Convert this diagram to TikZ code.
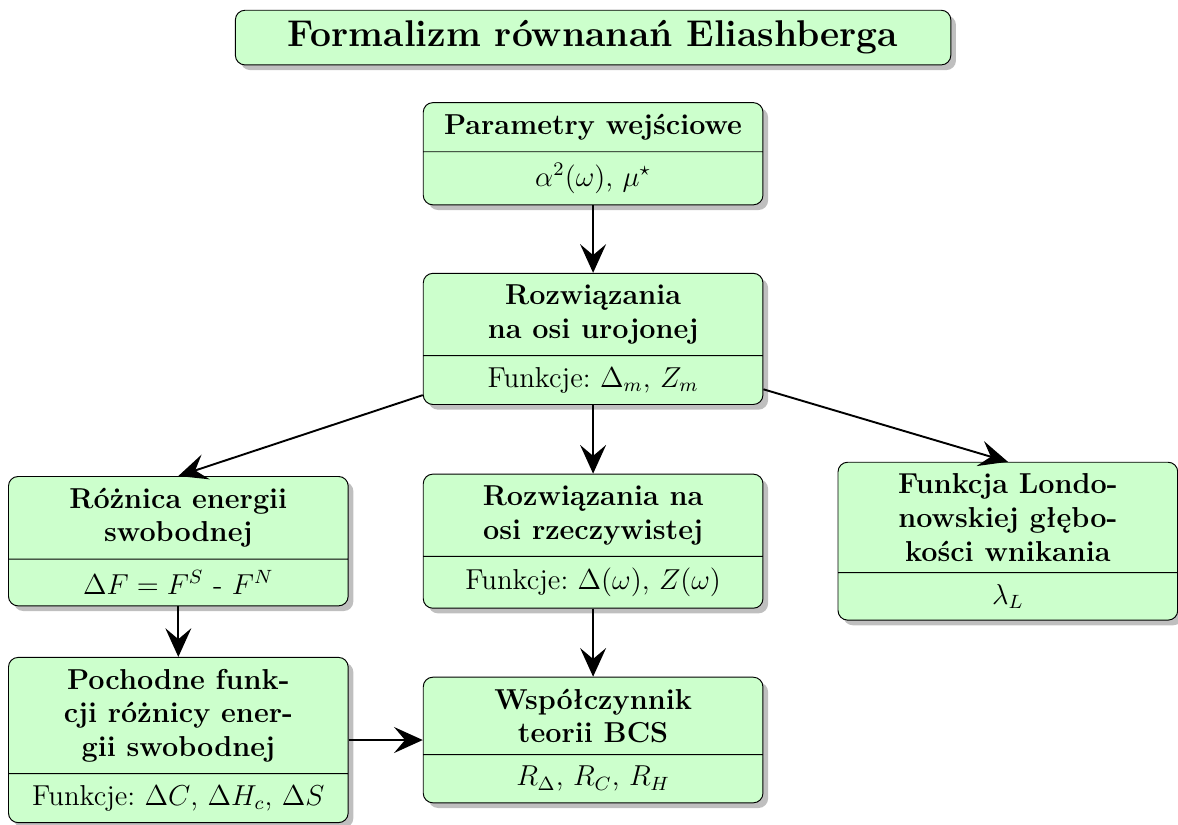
\documentclass[tikz,border=0pt]{standalone}
\definecolor{boxgreen}{RGB}{204, 255, 204}
\usepackage{tikz}
\usetikzlibrary{shapes, arrows.meta, positioning, shadows}
\usepackage{amsmath, amssymb}
\frenchspacing

\begin{document}
\begin{tikzpicture}[
  blok/.style={rectangle split, rectangle split parts=2, draw, fill=boxgreen, rounded corners=4pt, drop shadow, text width=4.62cm, align=flush center, inner xsep=5pt, inner ysep=4.6pt, font=\large},
  strzalka/.style={thick, -{Stealth[length=4.2mm, width=3.8mm, inset=1.6mm]}}]
  \useasboundingbox (-8.68, -4.14) rectangle (8.56, 7.92);
  % tytul
  \node[draw, fill=boxgreen, rounded corners=4pt, drop shadow, minimum width=10.47cm, minimum height=0.8cm, font=\fontsize{15.5}{18}\selectfont\bfseries] (tytul) at (0, 7.37) {Formalizm równanań Eliashberga};
  % bloki
  \node[blok] (param) at (0, 5.67) {\textbf{Parametry wejściowe}
    \nodepart{two} $\alpha^2(\omega)$, $\mu^\star$};
  \node[blok] (uroj) at (0, 2.96) {\textbf{Rozwiązania\\na osi urojonej}
    \nodepart{two} Funkcje: $\Delta_m$, $Z_m$};
  \node[blok] (roznica) at (-6.07, 0) {\textbf{Różnica energii\\swobodnej}
    \nodepart{two} $\Delta F = F^S$ - $F^N$};
  \node[blok] (rzecz) at (0, 0) {\textbf{Rozwiązania na\\osi rzeczywistej}
    \nodepart{two} Funkcje: $\Delta(\omega)$, $Z(\omega)$};
  \node[blok] (london) at (6.07, 0) {\textbf{Funkcja Londo-\\nowskiej głębo-\\kości wnikania}
    \nodepart{two} $\lambda_L$};
  \node[blok] (pochodne) at (-6.07, -2.91) {\textbf{Pochodne funk-\\cji różnicy ener-\\gii swobodnej}
    \nodepart{two} Funkcje: $\Delta C$, $\Delta H_c$, $\Delta S$};
  \node[blok] (wspol) at (0, -2.91) {\textbf{Współczynnik\\teorii BCS}
    \nodepart{two} $R_\Delta$, $R_C$, $R_H$};
  % strzalki
  \draw[strzalka] (param) -- (uroj);
  \draw[strzalka] (uroj) -- (roznica.north);
  \draw[strzalka] (uroj) -- (rzecz);
  \draw[strzalka] (uroj) -- (london.north);
  \draw[strzalka] (rzecz) -- (wspol);
  \draw[strzalka] (roznica) -- (pochodne);
  \draw[strzalka] (pochodne) -- (wspol);
\end{tikzpicture}
\end{document}
